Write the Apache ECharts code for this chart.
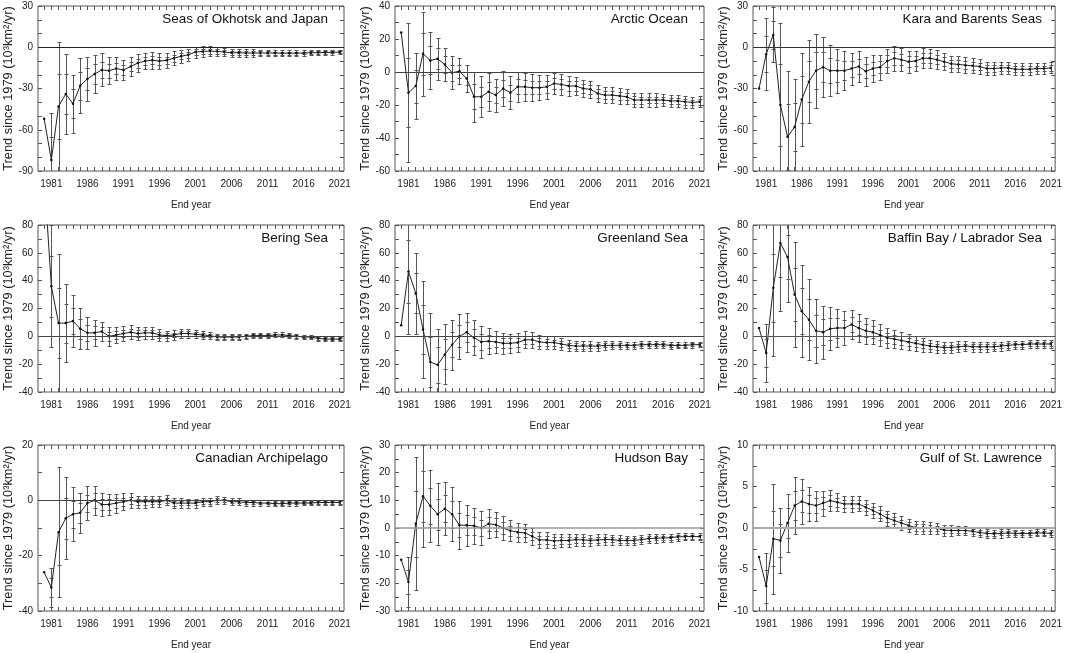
<!DOCTYPE html>
<html><head><meta charset="utf-8">
<script src="https://cdn.jsdelivr.net/npm/echarts@6/dist/echarts.min.js"></script>
<style>html,body{margin:0;padding:0;background:#fff}#c{width:1065px;height:653px}</style>
</head><body><div id="c"></div>
<script>
// ---------- data ----------
const years = [1980,1981,1982,1983,1984,1985,1986,1987,1988,1989,1990,1991,1992,1993,1994,1995,1996,1997,1998,1999,2000,2001,2002,2003,2004,2005,2006,2007,2008,2009,2010,2011,2012,2013,2014,2015,2016,2017,2018,2019,2020,2021];
const xLabelYears = [1981,1986,1991,1996,2001,2006,2011,2016,2021];
const regionNames = ["Seas of Okhotsk and Japan","Arctic Ocean","Kara and Barents Seas","Bering Sea","Greenland Sea","Baffin Bay / Labrador Sea","Canadian Archipelago","Hudson Bay","Gulf of St. Lawrence"];

const okhotskVal = [-52,-82,-43,-34,-41,-28,-23,-19.5,-16.5,-17,-15.5,-16.5,-14,-11.5,-10,-9.5,-10,-9.5,-8,-6.5,-5.5,-3.5,-3,-2.8,-3,-3.5,-4,-4,-4.2,-4.2,-4.2,-4.2,-4.2,-4.3,-4.3,-4.3,-4.2,-4,-3.9,-3.8,-3.6,-3.5];
const okhotskSig = [null,17,23.5,14.5,10.5,10,8,7,6,5,4.3,3.5,3.5,3.3,3,3,2.8,2.7,2.5,2.3,2.2,2,1.9,1.8,1.7,1.6,1.5,1.4,1.3,1.3,1.2,1.2,1.1,1.1,1,1,1,0.95,0.9,0.9,0.85,0.8];

const arcticVal = [24,-12.5,-8.5,11,7,8,4.5,-0.5,0.5,-4,-15,-15,-12,-14,-10,-12.5,-9,-9,-9.5,-9.5,-9,-7,-7.5,-8.5,-8.5,-10,-10.5,-13,-14,-14,-14.5,-15,-17,-17,-17,-17,-17,-17.5,-17.5,-18,-18.5,-18];
const arcticSig = [null,21,10,12.7,8.5,6.3,5,5,3.9,4,7.5,6.2,5.7,5,5.2,4.9,4.6,4.3,4,3.8,3.6,3.3,3.1,3,2.8,2.7,2.6,2.6,2.5,2.4,2.3,2.2,2.2,2.1,2,2,1.9,1.9,1.8,1.8,1.7,1.7];

const karaVal = [-30,-5,9,-42,-65,-58,-38,-25,-17,-14.5,-17,-17,-17,-15.5,-14,-17.5,-15.5,-14.5,-10,-8,-9,-10.5,-10,-8,-8,-9,-10.5,-12,-12.5,-13,-13.5,-14,-15.5,-15.5,-15,-15,-16,-16,-16,-15.5,-15.5,-15];
const karaSig = [null,13,10,30,24,17.5,17,15,13.5,11,9.3,8,7,5.8,5.5,5.2,4.8,4.5,4.5,4.6,4.2,4,3.8,3.6,3.5,3.4,3.2,3,2.9,2.8,2.7,2.6,2.5,2.4,2.3,2.3,2.2,2.2,2.1,2.1,2,2];

const beringVal = [116,36,9.5,9.5,11,5.5,2.5,2.5,3.5,0,1,2,3,2,2.5,2.5,1,0.5,1,2,2,1.5,1,0.5,-0.5,-0.5,-0.5,-0.5,0,0.5,0.5,0.5,1,1,0.5,0,-0.5,-0.5,-1.5,-2,-2,-2];
const beringSig = [null,22,25,14,9.5,7.3,5.8,4.6,3.4,3.3,3,2.8,2.6,2.4,2.2,2.1,2,1.8,1.7,1.6,1.5,1.4,1.3,1.3,1.2,1.2,1.1,1.1,1,1,1,0.9,0.9,0.9,0.9,0.85,0.85,0.85,0.8,0.8,0.8,0.8];

const greenlandVal = [8,46.5,31,5,-18.5,-20.5,-13,-6,0,3,-1,-4,-3.5,-4,-5,-5,-4.5,-2.5,-2.5,-4,-4.5,-4.5,-5.5,-6.5,-7,-7,-7,-7,-6.5,-6.5,-6.5,-6.5,-6.5,-6,-6,-6,-6,-6.5,-6.5,-6.5,-6,-6];
const greenlandSig = [null,22.5,14.5,17.5,17.7,13,10.8,9,8,7,6.3,5.7,4.6,3.9,3.7,3.5,3.3,3,2.8,2.6,2.4,2.2,2.1,2,1.9,1.8,1.7,1.6,1.5,1.45,1.4,1.35,1.3,1.3,1.25,1.2,1.2,1.15,1.1,1.1,1.05,1];

const baffinVal = [6,-12,35,67,57,30,18,12,4,3,5.5,6,6,8.5,6,4,3,1,-1,-2,-3,-4,-5,-6,-7,-7.5,-8,-8,-7.5,-7,-7.5,-7.5,-7.5,-7.5,-7,-6.5,-6,-6,-5.5,-5.5,-5.5,-5.5];
const baffinSig = [null,10.3,24.5,24.5,16,19,16.5,14.5,11.5,9.5,7.8,6.9,6,5.3,5,4.6,4.2,3.8,3.6,3.3,3,2.8,2.6,2.5,2.3,2.2,2.1,2,1.9,1.85,1.8,1.75,1.7,1.65,1.6,1.55,1.5,1.5,1.45,1.4,1.4,1.35];

const canadianVal = [-26,-31.5,-11.5,-6.5,-5,-4.5,-1,0,-1.5,-1.5,-1,-0.5,0,-0.5,-0.5,-0.5,-0.5,0,-1,-1,-1,-1,-0.5,-0.5,0,0,-0.5,-0.5,-0.8,-0.8,-1,-1,-1.2,-1.2,-1,-1,-1,-1,-0.8,-0.8,-0.8,-0.8];
const canadianSig = [null,3.5,11.7,7.4,4.9,3.6,3.1,2.6,2,1.9,1.7,1.5,1.3,1.1,1.1,1,1,0.9,0.9,0.85,0.8,0.8,0.75,0.7,0.7,0.65,0.6,0.6,0.55,0.55,0.5,0.5,0.5,0.48,0.45,0.45,0.43,0.42,0.4,0.4,0.4,0.38];

const hudsonVal = [-11.5,-19.5,1.5,11.5,8,5,7,5,1,1,0.8,0,1.5,1.2,0,-1,-1.5,-1.8,-3,-4.3,-4.3,-4.7,-4.5,-4.5,-4.2,-4.3,-4.5,-4.3,-4.2,-4.2,-4.5,-4.5,-4.5,-4.2,-3.8,-3.7,-3.6,-3.5,-3.2,-3.1,-3.1,-3.1];
const hudsonSig = [null,4.5,12,9.2,6.5,5.6,4.8,4.9,4.3,3.7,3.3,3,2.6,2.3,2.1,1.9,1.7,1.6,1.5,1.5,1.4,1.3,1.2,1.2,1.1,1.1,1,1,0.95,0.9,0.9,0.85,0.85,0.8,0.8,0.8,0.75,0.75,0.7,0.7,0.7,0.7];

const gulfVal = [-3.5,-7,-1.3,-1.5,0.6,2.7,3.2,2.9,2.7,3,3.3,3.1,2.9,2.9,2.9,2.5,2.1,1.7,1.2,0.9,0.6,0.3,0.05,0.05,0,-0.05,-0.25,-0.3,-0.3,-0.3,-0.4,-0.55,-0.65,-0.7,-0.65,-0.6,-0.65,-0.65,-0.65,-0.6,-0.6,-0.65];
const gulfSig = [null,2,3.3,1.95,1.75,1.7,1.33,1.05,0.9,0.75,0.65,0.55,0.5,0.48,0.45,0.45,0.45,0.45,0.45,0.43,0.42,0.4,0.4,0.38,0.36,0.35,0.33,0.32,0.3,0.3,0.28,0.27,0.26,0.25,0.25,0.24,0.23,0.22,0.22,0.21,0.21,0.2];

const yMin   = [-90,-60,-90,-40,-40,-40,-40,-30,-10];
const yMax   = [30,40,30,80,80,80,20,30,10];
const yMinor = [10,10,10,10,10,10,10,5,2.5];
const yMajor = [30,20,30,20,20,20,20,10,5];

const panelVals = [okhotskVal,arcticVal,karaVal,beringVal,greenlandVal,baffinVal,canadianVal,hudsonVal,gulfVal];
const panelSigs = [okhotskSig,arcticSig,karaSig,beringSig,greenlandSig,baffinSig,canadianSig,hudsonSig,gulfSig];

// ---------- layout / style ----------
const colLeft = [38,395,753];
const colWidth = [306,309,305];
const rowTop = [6,225,445];
const rowHeight = [165,167,166];
const zeroColor = ['#222','#444','#333','#444','#444','#555','#444','#999','#aaa'];
const zeroWidth = [1.2,1,1.2,1,1,1,1,1.5,1.8];
const FONT = "'Liberation Sans', Arial, Helvetica, sans-serif";
const X_MIN = 1979.15, X_MAX = 2021.6;

const chart = echarts.init(document.getElementById('c'), null, {renderer:'canvas'});

function errItem(params, api){
  const x = api.value(0), v = api.value(1), s = api.value(2);
  if (!isFinite(s)) return null;
  const cx = Math.round(api.coord([x, v])[0]) + 0.5;
  const yy = (val) => Math.round(api.coord([x, val])[1]) + 0.5;
  const st = {stroke:'#555', lineWidth:1, fill:null};
  const w = 2;
  const cap = (val) => ({type:'line', shape:{x1:cx-w,y1:yy(val),x2:cx+w,y2:yy(val)}, style:st});
  return {type:'group', children:[
    {type:'line', shape:{x1:cx,y1:yy(v+2*s),x2:cx,y2:yy(v-2*s)}, style:st},
    cap(v+2*s), cap(v+s), cap(v-s), cap(v-2*s)
  ]};
}

const grids=[], xAxes=[], yAxes=[], series=[], titles=[];
for (let i=0;i<9;i++){
  const r = Math.floor(i/3), c = i%3;
  const left = colLeft[c], top = rowTop[r], width = colWidth[c], height = rowHeight[r];
  grids.push({left, top, width, height, show:true, borderColor:'#555', borderWidth:1, backgroundColor:'transparent'});
  const tickStyle = {show:true, inside:true, length:4, lineStyle:{color:'#555', width:1}};
  xAxes.push({
    type:'value', gridIndex:i, min:X_MIN, max:X_MAX, position:'bottom',
    axisLine:{show:false, onZero:false}, splitLine:{show:false},
    axisTick:Object.assign({customValues:years}, tickStyle),
    axisLabel:{customValues:xLabelYears, formatter:(v)=>String(Math.round(v)), fontSize:10, color:'#222', fontFamily:FONT, margin:8},
    name:'End year', nameLocation:'middle', nameGap:29,
    nameTextStyle:{fontSize:10, color:'#222', fontFamily:FONT}
  });
  xAxes.push({
    type:'value', gridIndex:i, min:X_MIN, max:X_MAX, position:'top',
    axisLine:{show:false, onZero:false}, splitLine:{show:false},
    axisTick:Object.assign({customValues:years}, tickStyle),
    axisLabel:{show:false}
  });
  const maj = yMajor[i];
  yAxes.push({
    type:'value', gridIndex:i, min:yMin[i], max:yMax[i], interval:yMinor[i], position:'left',
    axisLine:{show:false, onZero:false}, splitLine:{show:false},
    axisTick:tickStyle,
    axisLabel:{formatter:(v)=>{const q=v/maj; return Math.abs(q-Math.round(q))<1e-6 ? String(Math.round(v)) : '';}, fontSize:10, color:'#222', fontFamily:FONT, margin:5},
    name:'Trend since 1979 (10³km²/yr)', nameLocation:'middle', nameGap:22, nameRotate:90,
    nameTextStyle:{fontSize:12.8, color:'#222', fontFamily:FONT}
  });
  yAxes.push({
    type:'value', gridIndex:i, min:yMin[i], max:yMax[i], interval:yMinor[i], position:'right',
    axisLine:{show:false, onZero:false}, splitLine:{show:false},
    axisTick:tickStyle, axisLabel:{show:false}
  });
  const vals = panelVals[i], sigs = panelSigs[i];
  const lineData = years.map((y,k)=>[y, vals[k]]);
  const errData = [];
  years.forEach((y,k)=>{ if (sigs[k]!=null) errData.push([y, vals[k], sigs[k]]); });
  series.push({
    type:'custom', xAxisIndex:2*i, yAxisIndex:2*i, data:errData, renderItem:errItem,
    clip:true, silent:true, z:2
  });
  series.push({
    type:'line', xAxisIndex:2*i, yAxisIndex:2*i, data:lineData,
    symbol:'circle', symbolSize:2.5, showSymbol:true,
    itemStyle:{color:'#111'}, lineStyle:{color:'#222', width:1},
    clip:true, silent:true, animation:false, z:3,
    markLine:{silent:true, symbol:['none','none'], label:{show:false},
      lineStyle:{color:zeroColor[i], width:zeroWidth[i], type:'solid'}, data:[{yAxis:0}], animation:false}
  });
  titles.push({
    text:regionNames[i], right: 1065 - (left + width - 16), top: top + 6, padding:0,
    textStyle:{fontSize:13.5, fontWeight:'normal', color:'#111', fontFamily:FONT}
  });
}

chart.setOption({
  animation:false,
  backgroundColor:'#fff',
  title:titles, grid:grids, xAxis:xAxes, yAxis:yAxes, series
});
</script>
</body></html>
